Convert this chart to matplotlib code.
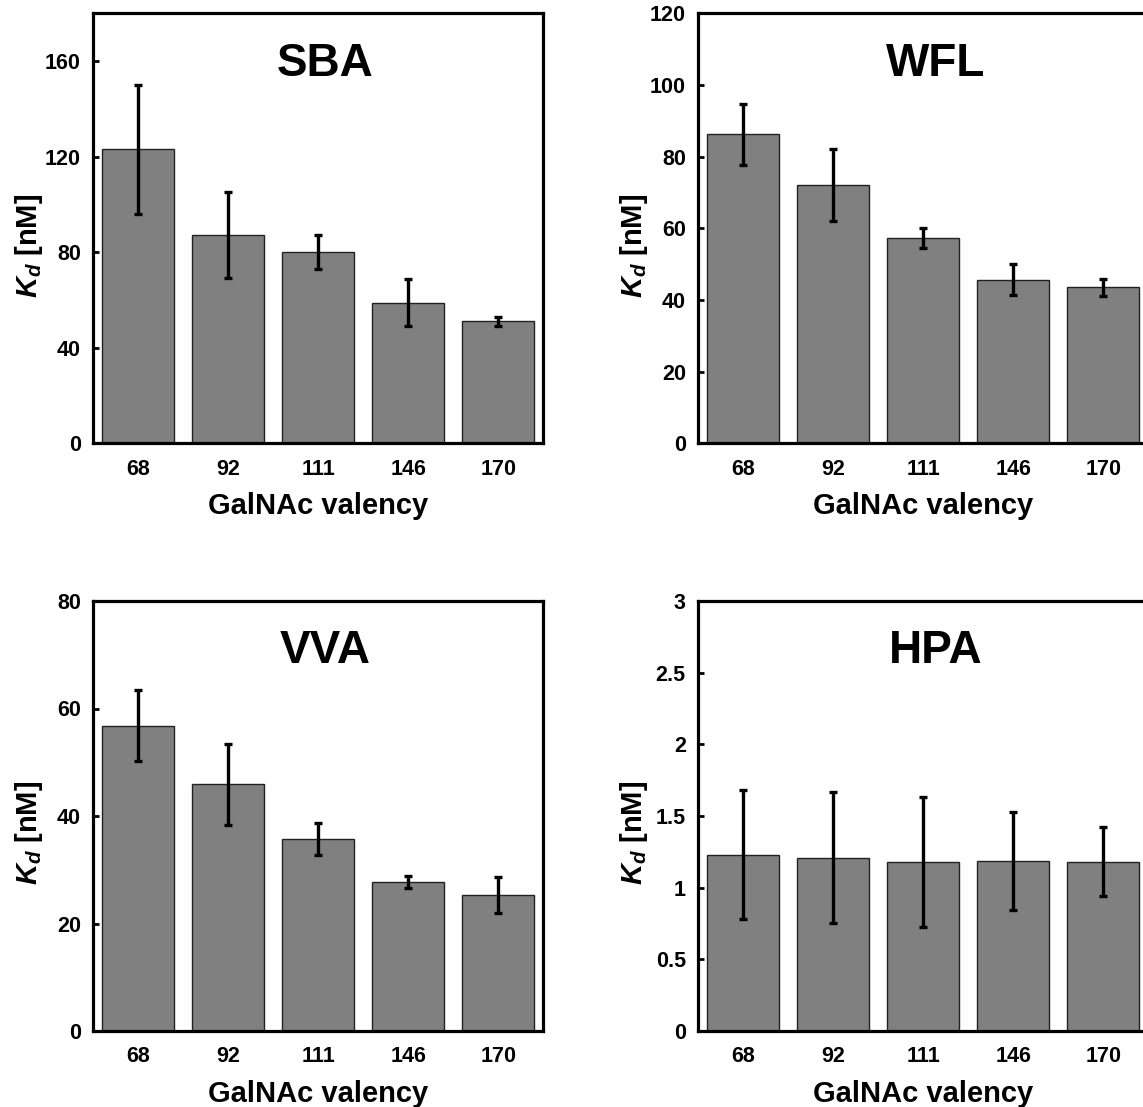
import matplotlib
matplotlib.use("Agg")
import matplotlib.pyplot as plt
import numpy as np

plt.rcParams['font.family'] = ['Liberation Sans', 'DejaVu Sans']
plt.rcParams['font.weight'] = 'bold'
plt.rcParams['mathtext.fontset'] = 'custom'
plt.rcParams['mathtext.it'] = 'Liberation Sans:italic:bold'
plt.rcParams['mathtext.rm'] = 'Liberation Sans:bold'
plt.rcParams['mathtext.bf'] = 'Liberation Sans:bold'

valency = ["68", "92", "111", "146", "170"]

sba_kd = [123, 87, 80, 58.8, 51]
sba_err = [27, 18, 7, 9.9, 1.7]
wfl_kd = [86.3, 72.1, 57.3, 45.7, 43.5]
wfl_err = [8.5, 10, 2.8, 4.4, 2.3]
vva_kd = [56.8, 45.9, 35.7, 27.7, 25.3]
vva_err = [6.6, 7.5, 3.0, 1.1, 3.3]
hpa_kd = [1.23, 1.21, 1.18, 1.185, 1.18]
hpa_err = [0.45, 0.455, 0.455, 0.34, 0.24]

panels = [
    ("SBA", sba_kd, sba_err, 180, [0, 40, 80, 120, 160], ["0", "40", "80", "120", "160"]),
    ("WFL", wfl_kd, wfl_err, 120, [0, 20, 40, 60, 80, 100, 120], ["0", "20", "40", "60", "80", "100", "120"]),
    ("VVA", vva_kd, vva_err, 80, [0, 20, 40, 60, 80], ["0", "20", "40", "60", "80"]),
    ("HPA", hpa_kd, hpa_err, 3, [0, 0.5, 1, 1.5, 2, 2.5, 3], ["0", "0.5", "1", "1.5", "2", "2.5", "3"]),
]

W, H = 1143, 1107
fig = plt.figure(figsize=(W / 100, H / 100), dpi=100)

ax_w = 450 / W
ax_h = 430 / H
lefts = [93.3 / W, 698.3 / W]
bottoms = [1 - 443.3 / H, 1 - 1031 / H]
title_x = [0.515, 0.527]

for i, (name, kd, err, ymax, yt, ytl) in enumerate(panels):
    col = i % 2
    row = i // 2
    ax = fig.add_axes([lefts[col], bottoms[row], ax_w, ax_h])
    x = np.arange(len(valency))
    ax.bar(x, kd, width=0.8, color="#808080", edgecolor="#222222", linewidth=1.0, zorder=2)
    ax.errorbar(x, kd, yerr=err, fmt="none", ecolor="black", elinewidth=2.4,
                capsize=3.2, capthick=2.4, zorder=3)
    ax.set_xlim(-0.5, 4.5)
    ax.set_ylim(0, ymax)
    ax.set_xticks(x)
    ax.set_xticklabels(valency, fontsize=15.5, fontweight="bold")
    ax.set_yticks(yt)
    ax.set_yticklabels(ytl, fontsize=15.5, fontweight="bold")
    ax.tick_params(axis="x", length=0, pad=11)
    ax.tick_params(axis="y", direction="in", length=4, width=2, pad=9)
    for s in ax.spines.values():
        s.set_linewidth(2.3)
    ax.set_xlabel("GalNAc valency", fontsize=21, fontweight="bold", labelpad=9)
    ax.set_ylabel(r"$K_d$ [nM]", fontsize=21, fontweight="bold")
    ax.yaxis.set_label_coords(-48 / 450, 0.46)
    ax.text(title_x[col], 0.855, name, transform=ax.transAxes, fontsize=33,
            fontweight="bold", ha="center", va="baseline")

fig.savefig("out.png", dpi=100)
